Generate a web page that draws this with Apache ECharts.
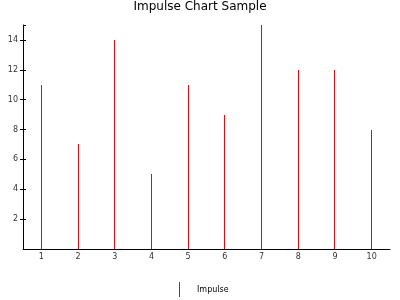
<!DOCTYPE html>
<html><head><meta charset="utf-8">
<script src="https://cdn.jsdelivr.net/npm/echarts@6/dist/echarts.min.js"></script>
<style>html,body{margin:0;padding:0;background:#fff}#c{width:400px;height:300px}</style>
</head><body><div id="c"></div>
<script>
const categories = ['1','2','3','4','5','6','7','8','9','10'];
const impulseValues = [11, 7, 14, 5, 11, 9, 15, 12, 12, 8];
const seriesName = 'Impulse';
const titleText = 'Impulse Chart Sample';

const yBase = {type: 'value', min: 0, max: 15, interval: 2, splitLine: {show: false}};
const chart = echarts.init(document.getElementById('c'), null, {renderer:'canvas'});
chart.setOption({
  animation: false,
  backgroundColor: '#fff',
  title: {text: titleText, left: 'center', top: 0, padding: [1, 0, 0, 0],
    textStyle: {fontFamily: 'DejaVu Sans', fontSize: 12, fontWeight: 'normal', color: '#000'}},
  grid: {left: 23, right: 10, top: 25, bottom: 51, containLabel: false},
  legend: {bottom: -2, left: 174, data: [seriesName], icon: 'rect', itemWidth: 1, itemHeight: 15,
    textStyle: {fontFamily: 'DejaVu Sans', fontSize: 8, color: '#000', padding: [0,0,0,12]}},
  xAxis: {type: 'category', data: categories, boundaryGap: true,
    axisLine: {lineStyle: {color: '#000', width: 1}},
    axisTick: {alignWithLabel: true, length: 3, lineStyle: {color: '#000'}},
    axisLabel: {fontFamily: 'DejaVu Sans', fontSize: 8, color: '#333', margin: 4},
    splitLine: {show: false}},
  yAxis: [
    Object.assign({}, yBase, {
      axisLine: {show: true, lineStyle: {color: '#000', width: 1}},
      axisTick: {show: true, inside: false, length: 3, lineStyle: {color: '#000'}},
      axisLabel: {fontFamily: 'DejaVu Sans', fontSize: 8, color: '#333', margin: 5, showMinLabel: false, showMaxLabel: false}}),
    Object.assign({}, yBase, {position: 'left',
      axisLine: {show: false},
      axisTick: {show: true, inside: true, length: 3, lineStyle: {color: '#000'}},
      axisLabel: {show: false}})
  ],
  series: [{name: seriesName, type: 'custom', data: impulseValues.map((v, i) => [i, v]),
    itemStyle: {color: '#ff0000'},
    encode: {x: 0, y: 1},
    renderItem: function (params, api) {
      const top = api.coord([api.value(0), api.value(1)]);
      const base = api.coord([api.value(0), 0]);
      const x = Math.floor(top[0]) + 0.5;
      return {type: 'line', shape: {x1: x, y1: Math.round(top[1]), x2: x, y2: Math.round(base[1])},
        style: {stroke: '#ff0000', lineWidth: 1}};
    }}]
});
</script></body></html>
